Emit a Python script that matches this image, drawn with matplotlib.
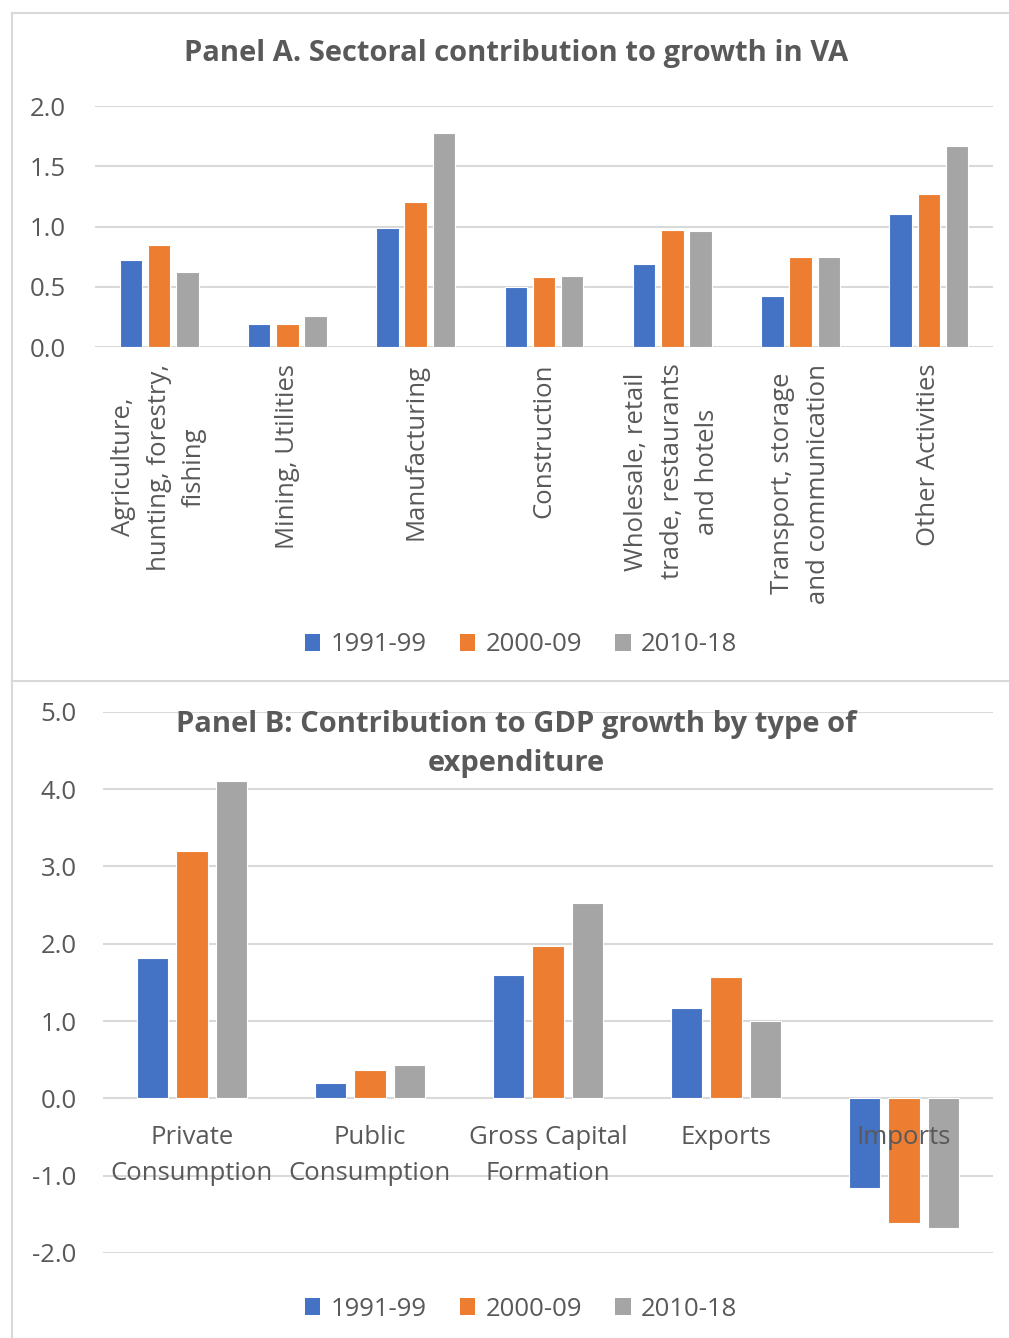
import matplotlib.pyplot as plt
import numpy as np
from matplotlib.patches import Patch
from matplotlib.lines import Line2D

plt.rcParams['font.family'] = ['Open Sans', 'DejaVu Sans']
plt.rcParams['axes.unicode_minus'] = False

# data
periods = ['1991-99', '2000-09', '2010-18']
colors = ['#4472C4', '#ED7D31', '#A5A5A5']

sectors = ['Agriculture,\nhunting, forestry,\nfishing', 'Mining, Utilities', 'Manufacturing',
           'Construction', 'Wholesale, retail\ntrade, restaurants\nand hotels',
           'Transport, storage\nand communication', 'Other Activities']
va_9199 = [0.72, 0.19, 0.99, 0.50, 0.69, 0.42, 1.10]
va_0009 = [0.85, 0.19, 1.20, 0.58, 0.97, 0.75, 1.27]
va_1018 = [0.62, 0.26, 1.78, 0.59, 0.96, 0.75, 1.67]

expend = ['Private\nConsumption', 'Public\nConsumption', 'Gross Capital\nFormation', 'Exports', 'Imports']
gdp_9199 = [1.82, 0.20, 1.59, 1.17, -1.16]
gdp_0009 = [3.20, 0.37, 1.97, 1.57, -1.61]
gdp_1018 = [4.11, 0.43, 2.53, 1.00, -1.68]

txt = '#595959'
grid = '#D9D9D9'
W, H = 1009, 1338
fs = 18.5

fig = plt.figure(figsize=(W / 100, H / 100), dpi=100)

# outer frame and separator
for xs, ys in [([12, 12], [13, H]), ([12, W], [13, 13]), ([12, W], [681, 681])]:
    fig.add_artist(Line2D([x / W for x in xs], [1 - y / H for y in ys], color=grid, lw=1.5))


def bars(ax, vals, n, off, width):
    x = np.arange(n)
    for i, v in enumerate(vals):
        ax.bar(x + (i - 1) * off, v, width, color=colors[i], edgecolor='white', linewidth=0.8, zorder=3)


def style(ax):
    for s in ax.spines.values():
        s.set_visible(False)
    ax.yaxis.grid(True, color=grid, lw=1.5, zorder=0)
    ax.tick_params(length=0, colors=txt, labelsize=fs)


# Panel A
axA = fig.add_axes([95 / W, 1 - 347 / H, 898 / W, 241 / H])
bars(axA, [va_9199, va_0009, va_1018], len(sectors), 0.22, 0.175)
style(axA)
axA.set_xlim(-0.5, len(sectors) - 0.5)
axA.set_ylim(0, 2.0)
axA.set_yticks(np.arange(0, 2.01, 0.5))
axA.set_yticklabels(['%.1f' % v for v in np.arange(0, 2.01, 0.5)])
axA.tick_params(axis='y', pad=21)
axA.set_xticks(np.arange(len(sectors)))
axA.set_xticklabels(sectors, rotation=90, linespacing=1.55)
axA.tick_params(axis='x', pad=12)
fig.text(516 / W, 1 - 54 / H, 'Panel A. Sectoral contribution to growth in VA',
         ha='center', va='center', fontsize=21, fontweight='bold', color=txt)

# Panel B
axB = fig.add_axes([103 / W, 1 - 1253 / H, 890 / W, 541.3 / H])
bars(axB, [gdp_9199, gdp_0009, gdp_1018], len(expend), 0.222, 0.175)
style(axB)
axB.set_xlim(-0.5, len(expend) - 0.5)
axB.set_ylim(-2.0, 5.0)
axB.set_yticks(np.arange(-2, 5.01, 1.0))
axB.set_yticklabels(['%.1f' % v for v in np.arange(-2, 5.01, 1.0)])
axB.tick_params(axis='y', pad=19)
axB.set_xticks([])
for i, lab in enumerate(expend):
    axB.annotate(lab, xy=(i, 0), xytext=(0, -19), textcoords='offset points',
                 ha='center', va='top', fontsize=fs, color=txt, linespacing=1.58, zorder=5)
fig.text(516 / W, 1 - 744 / H, 'Panel B: Contribution to GDP growth by type of\nexpenditure',
         ha='center', va='center', fontsize=21, fontweight='bold', color=txt, linespacing=1.45)

# legends
handles = [Patch(facecolor=c, edgecolor='none') for c in colors]
for y in [645, 1309]:
    fig.legend(handles, periods, loc='center', bbox_to_anchor=(521 / W, 1 - y / H), ncol=3,
               frameon=False, fontsize=fs, labelcolor=txt, handlelength=0.6, handleheight=0.6,
               handletextpad=0.4, columnspacing=1.3)

plt.savefig('out.png', dpi=100)
